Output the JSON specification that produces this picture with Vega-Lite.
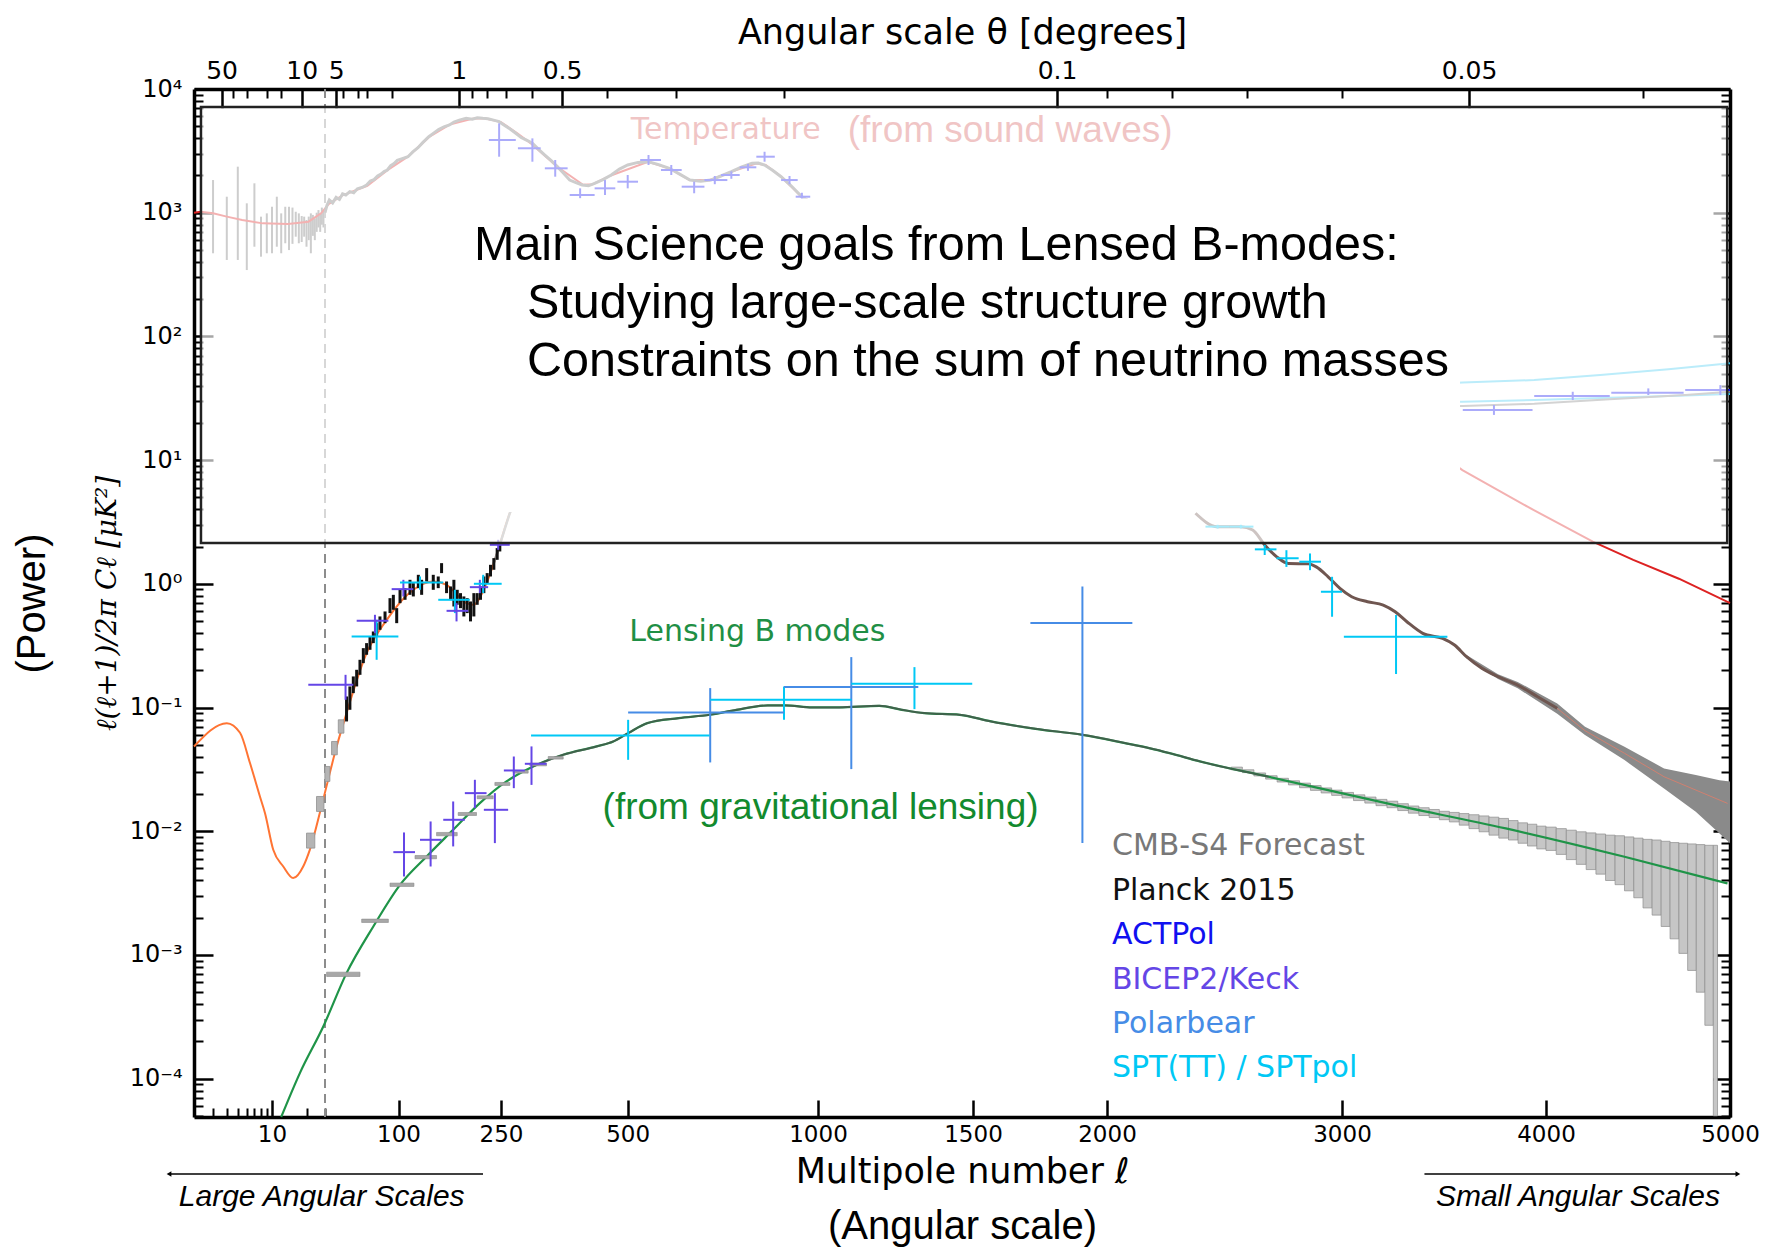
{
  "$schema": "https://vega.github.io/schema/vega-lite/v6.json",
  "width": 1536,
  "height": 1028,
  "autosize": {"type": "none"},
  "padding": {"left": 194, "top": 89, "right": 40, "bottom": 134},
  "background": "white",
  "config": {
    "view": {"stroke": null},
    "axis": {"grid": false, "labelFont": "DejaVu Sans", "titleFont": "DejaVu Sans", "labelColor": "#000000", "titleColor": "#000000", "tickColor": "#000000", "domainColor": "#000000", "titleFontWeight": "normal"}
  },
  "resolve": {"axis": {"x": "independent", "y": "independent"}},
  "datasets": {
    "tt_lowl": [
      {"l": 3, "lo": 470, "hi": 1837}, {"l": 4, "lo": 415, "hi": 1347}, {"l": 5, "lo": 415, "hi": 2356}, {"l": 6, "lo": 344, "hi": 1191},
      {"l": 7, "lo": 531, "hi": 1728}, {"l": 8, "lo": 441, "hi": 929}, {"l": 9, "lo": 470, "hi": 988}, {"l": 10, "lo": 470, "hi": 1117},
      {"l": 11, "lo": 531, "hi": 1347}, {"l": 12, "lo": 470, "hi": 988}, {"l": 13, "lo": 566, "hi": 1117}, {"l": 14, "lo": 499, "hi": 1117},
      {"l": 15, "lo": 560, "hi": 1100}, {"l": 16, "lo": 640, "hi": 1018}, {"l": 17, "lo": 566, "hi": 988}, {"l": 18, "lo": 580, "hi": 940},
      {"l": 19, "lo": 640, "hi": 929}, {"l": 20, "lo": 531, "hi": 873}, {"l": 21, "lo": 600, "hi": 930}, {"l": 22, "lo": 470, "hi": 988},
      {"l": 23, "lo": 650, "hi": 960}, {"l": 24, "lo": 600, "hi": 900}, {"l": 25, "lo": 700, "hi": 1000}, {"l": 26, "lo": 760, "hi": 1050},
      {"l": 27, "lo": 700, "hi": 980}, {"l": 28, "lo": 800, "hi": 1100}, {"l": 29, "lo": 760, "hi": 1040}
    ],
    "tt_data": [
      {"l": 30, "v": 1000}, {"l": 31, "v": 1150}, {"l": 32.2, "v": 1266}, {"l": 34, "v": 1200}, {"l": 36, "v": 1330}, {"l": 38, "v": 1280},
      {"l": 40, "v": 1420}, {"l": 42.2, "v": 1390}, {"l": 45, "v": 1480}, {"l": 48, "v": 1450}, {"l": 51, "v": 1560}, {"l": 55, "v": 1600},
      {"l": 59.3, "v": 1675}, {"l": 63, "v": 1800}, {"l": 67, "v": 1850}, {"l": 71, "v": 1980}, {"l": 75, "v": 2050}, {"l": 79, "v": 2150},
      {"l": 83.3, "v": 2215}, {"l": 88, "v": 2400}, {"l": 93, "v": 2500}, {"l": 98, "v": 2650}, {"l": 103, "v": 2720}, {"l": 109.7, "v": 2836},
      {"l": 115, "v": 3100}, {"l": 121, "v": 3350}, {"l": 127, "v": 3700}, {"l": 134.5, "v": 4113}, {"l": 141, "v": 4400}, {"l": 148, "v": 4700},
      {"l": 156, "v": 4950}, {"l": 164.6, "v": 5120}, {"l": 172, "v": 5400}, {"l": 181, "v": 5600}, {"l": 190.8, "v": 5790}, {"l": 200, "v": 5700},
      {"l": 208, "v": 5850}, {"l": 217, "v": 5790}, {"l": 226, "v": 5750}, {"l": 236, "v": 5600}, {"l": 246.4, "v": 5445}, {"l": 255, "v": 5100},
      {"l": 264, "v": 4750}, {"l": 273.1, "v": 4385}, {"l": 282, "v": 4050}, {"l": 292, "v": 3850}, {"l": 301.6, "v": 3640}, {"l": 313, "v": 3250},
      {"l": 324.9, "v": 2926}, {"l": 337, "v": 2650}, {"l": 350.1, "v": 2356}, {"l": 362, "v": 2100}, {"l": 374.1, "v": 1837}, {"l": 386, "v": 1750},
      {"l": 398.3, "v": 1675}, {"l": 411, "v": 1650}, {"l": 423.9, "v": 1728}, {"l": 442, "v": 1850}, {"l": 460.6, "v": 2017}, {"l": 480, "v": 2250},
      {"l": 500.2, "v": 2430}, {"l": 520, "v": 2550}, {"l": 540.9, "v": 2584}, {"l": 562, "v": 2450}, {"l": 584.8, "v": 2285}, {"l": 608, "v": 2050},
      {"l": 632.1, "v": 1837}, {"l": 658, "v": 1800}, {"l": 683.3, "v": 1837}, {"l": 710, "v": 1980}, {"l": 738.4, "v": 2145}, {"l": 768, "v": 2350},
      {"l": 798.1, "v": 2506}, {"l": 817, "v": 2520}, {"l": 836.6, "v": 2430}, {"l": 862, "v": 2200}, {"l": 890.2, "v": 1955}, {"l": 920, "v": 1650},
      {"l": 951.3, "v": 1347}, {"l": 980, "v": 1200}, {"l": 1000, "v": 1100}
    ],
    "tt_theory": [
      {"l": 2, "v": 1000}, {"l": 2.31, "v": 1018}, {"l": 3, "v": 990}, {"l": 4, "v": 930}, {"l": 5.46, "v": 873}, {"l": 8.32, "v": 820},
      {"l": 13.7, "v": 810}, {"l": 20.9, "v": 846}, {"l": 27.5, "v": 988}, {"l": 32, "v": 1180}, {"l": 40, "v": 1380}, {"l": 60, "v": 1650},
      {"l": 83, "v": 2200}, {"l": 110, "v": 2850}, {"l": 135, "v": 4100}, {"l": 165, "v": 5150}, {"l": 200, "v": 5750}, {"l": 220, "v": 5800},
      {"l": 250, "v": 5400}, {"l": 275, "v": 4400}, {"l": 300, "v": 3600}, {"l": 350, "v": 2350}, {"l": 400, "v": 1680}, {"l": 420, "v": 1700},
      {"l": 460, "v": 2000}, {"l": 540, "v": 2580}, {"l": 585, "v": 2280}, {"l": 630, "v": 1850}, {"l": 680, "v": 1830}, {"l": 740, "v": 2150},
      {"l": 810, "v": 2500}, {"l": 840, "v": 2430}, {"l": 890, "v": 1960}, {"l": 950, "v": 1350}, {"l": 1000, "v": 1150}, {"l": 1100, "v": 1050},
      {"l": 1200, "v": 900}, {"l": 1400, "v": 700}, {"l": 1600, "v": 480}, {"l": 1800, "v": 320}, {"l": 2000, "v": 220}, {"l": 2200, "v": 150},
      {"l": 2500, "v": 85}, {"l": 2800, "v": 45}, {"l": 3100, "v": 25}, {"l": 3400, "v": 13}, {"l": 3566, "v": 8.3}, {"l": 3900, "v": 4.2},
      {"l": 4234, "v": 2.19}, {"l": 4447, "v": 1.56}, {"l": 4700, "v": 1.1}, {"l": 4985, "v": 0.716}, {"l": 5000, "v": 0.7}
    ],
    "spt_tt": [
      {"s": "hi", "l": 3000, "v": 38}, {"s": "hi", "l": 3568, "v": 42.5}, {"s": "hi", "l": 3936, "v": 44.4}, {"s": "hi", "l": 4272, "v": 48.8}, {"s": "hi", "l": 4641, "v": 54.2}, {"s": "hi", "l": 5000, "v": 60.6},
      {"s": "lo", "l": 3000, "v": 29}, {"s": "lo", "l": 3568, "v": 29.7}, {"s": "lo", "l": 3936, "v": 30.6}, {"s": "lo", "l": 4322, "v": 32}, {"s": "lo", "l": 4736, "v": 33.3}, {"s": "lo", "l": 5000, "v": 34.2},
      {"s": "model", "l": 3000, "v": 28}, {"s": "model", "l": 3568, "v": 27.4}, {"s": "model", "l": 3936, "v": 28.5}, {"s": "model", "l": 4322, "v": 31}, {"s": "model", "l": 4736, "v": 33.6}, {"s": "model", "l": 5000, "v": 35.7}
    ],
    "ee_theory": [
      {"l": 2, "v": 0.0484}, {"l": 4, "v": 0.0748}, {"l": 5.23, "v": 0.0625}, {"l": 6.4, "v": 0.0356}, {"l": 7.83, "v": 0.0191}, {"l": 8.68, "v": 0.014},
      {"l": 10.25, "v": 0.00708}, {"l": 12.5, "v": 0.00519}, {"l": 15.2, "v": 0.00418}, {"l": 18.6, "v": 0.00519}, {"l": 21.5, "v": 0.00708},
      {"l": 28.8, "v": 0.018}, {"l": 36.3, "v": 0.0484}, {"l": 42.7, "v": 0.0902}, {"l": 59.3, "v": 0.275}, {"l": 82.5, "v": 0.512},
      {"l": 115.6, "v": 0.895}, {"l": 140.5, "v": 1.045}, {"l": 160, "v": 0.982}, {"l": 191.4, "v": 0.698}, {"l": 201.5, "v": 0.676},
      {"l": 223.5, "v": 1.012}, {"l": 244.7, "v": 1.888}, {"l": 263.5, "v": 3.73}, {"l": 280, "v": 5.5}
    ],
    "ee_stub": [
      {"l": 236, "v": 1.45}, {"l": 245, "v": 1.9}, {"l": 255, "v": 2.7}, {"l": 263.5, "v": 3.73}, {"l": 275, "v": 5}, {"l": 290, "v": 7}
    ],
    "ee_s4_low": [
      {"l0": 20, "l1": 24, "lo": 0.00731, "hi": 0.00966}, {"l0": 24.9, "l1": 29.3, "lo": 0.01446, "hi": 0.0191},
      {"l0": 29.9, "l1": 32.5, "lo": 0.0253, "hi": 0.0334}, {"l0": 33.4, "l1": 36.7, "lo": 0.0415, "hi": 0.0532},
      {"l0": 37.3, "l1": 40.9, "lo": 0.0621, "hi": 0.0796}
    ],
    "planck_ee": [
      {"l": 42.7, "lo": 0.0772, "hi": 0.1229}, {"l": 45.1, "lo": 0.0959, "hi": 0.1481}, {"l": 47.7, "lo": 0.1308, "hi": 0.1784},
      {"l": 50.4, "lo": 0.1481, "hi": 0.2019}, {"l": 53.2, "lo": 0.1839, "hi": 0.2432}, {"l": 56.2, "lo": 0.2286, "hi": 0.3021},
      {"l": 59.3, "lo": 0.267, "hi": 0.3317}, {"l": 62.7, "lo": 0.293, "hi": 0.3755}, {"l": 66.2, "lo": 0.3317, "hi": 0.412},
      {"l": 69.9, "lo": 0.3755, "hi": 0.481}, {"l": 73.8, "lo": 0.425, "hi": 0.545}, {"l": 80.2, "lo": 0.481, "hi": 0.598},
      {"l": 87, "lo": 0.58, "hi": 0.766}, {"l": 91.9, "lo": 0.617, "hi": 0.815}, {"l": 97.1, "lo": 0.481, "hi": 0.636},
      {"l": 101.5, "lo": 0.698, "hi": 0.895}, {"l": 106.6, "lo": 0.743, "hi": 0.923}, {"l": 111.9, "lo": 0.815, "hi": 1.078},
      {"l": 115.6, "lo": 0.791, "hi": 1.013}, {"l": 121.4, "lo": 0.923, "hi": 1.183}, {"l": 125.4, "lo": 0.815, "hi": 1.078},
      {"l": 131.7, "lo": 1.045, "hi": 1.34}, {"l": 140.5, "lo": 0.895, "hi": 1.183}, {"l": 147.5, "lo": 0.923, "hi": 1.147},
      {"l": 152.4, "lo": 1.221, "hi": 1.47}, {"l": 160, "lo": 0.841, "hi": 1.045}, {"l": 166.4, "lo": 0.743, "hi": 0.952},
      {"l": 171.9, "lo": 0.656, "hi": 1.078}, {"l": 177.6, "lo": 0.677, "hi": 0.895}, {"l": 182.7, "lo": 0.636, "hi": 0.841},
      {"l": 187.5, "lo": 0.545, "hi": 0.791}, {"l": 192.4, "lo": 0.58, "hi": 0.766}, {"l": 197.4, "lo": 0.497, "hi": 0.72},
      {"l": 202.6, "lo": 0.545, "hi": 0.841}, {"l": 207.9, "lo": 0.677, "hi": 0.841}, {"l": 213.3, "lo": 0.743, "hi": 0.952},
      {"l": 218.9, "lo": 0.841, "hi": 1.147}, {"l": 224.6, "lo": 1.013, "hi": 1.221}, {"l": 230.5, "lo": 1.147, "hi": 1.425},
      {"l": 236.5, "lo": 1.299, "hi": 1.614}, {"l": 242.7, "lo": 1.564, "hi": 1.944}, {"l": 247.7, "lo": 1.827, "hi": 2.134}
    ],
    "ee_band": [
      {"l": 3587, "lo": 0.25, "hi": 0.266}, {"l": 3746, "lo": 0.17, "hi": 0.186}, {"l": 3848, "lo": 0.143, "hi": 0.161},
      {"l": 3954, "lo": 0.113, "hi": 0.132}, {"l": 4055, "lo": 0.089, "hi": 0.108}, {"l": 4194, "lo": 0.0599, "hi": 0.07},
      {"l": 4400, "lo": 0.0376, "hi": 0.0482}, {"l": 4616, "lo": 0.0222, "hi": 0.0322}, {"l": 4797, "lo": 0.01438, "hi": 0.0285},
      {"l": 4937, "lo": 0.0096, "hi": 0.0259}, {"l": 5000, "lo": 0.008, "hi": 0.0252}
    ],
    "ee_high": [
      {"l": 2346, "v": 3.72}, {"l": 2438, "v": 2.9}, {"l": 2543, "v": 2.9}, {"l": 2595, "v": 2.72}, {"l": 2646, "v": 2.06},
      {"l": 2697, "v": 1.66}, {"l": 2750, "v": 1.46}, {"l": 2840, "v": 1.45}, {"l": 2877, "v": 1.37}, {"l": 2933, "v": 1.14},
      {"l": 2990, "v": 0.919}, {"l": 3042, "v": 0.787}, {"l": 3112, "v": 0.717}, {"l": 3183, "v": 0.674}, {"l": 3238, "v": 0.595},
      {"l": 3293, "v": 0.494}, {"l": 3369, "v": 0.398}, {"l": 3466, "v": 0.362}, {"l": 3526, "v": 0.32}, {"l": 3587, "v": 0.2576},
      {"l": 3665, "v": 0.2073}, {"l": 3746, "v": 0.1776}, {"l": 3848, "v": 0.152}, {"l": 3954, "v": 0.1224}, {"l": 4055, "v": 0.0985}
    ],
    "ee_tail": [
      {"l": 4055, "v": 0.0985}, {"l": 4194, "v": 0.065}, {"l": 4400, "v": 0.0427}, {"l": 4616, "v": 0.0276}, {"l": 4985, "v": 0.0168}
    ],
    "bb_s4_high": [
      {"l0": 2500, "l1": 2550, "lo": 0.0314, "hi": 0.033}, {"l0": 2550, "l1": 2600, "lo": 0.0298, "hi": 0.0314},
      {"l0": 2600, "l1": 2650, "lo": 0.028, "hi": 0.0296}, {"l0": 2650, "l1": 2700, "lo": 0.0264, "hi": 0.0281},
      {"l0": 2700, "l1": 2750, "lo": 0.025, "hi": 0.0268}, {"l0": 2750, "l1": 2800, "lo": 0.0237, "hi": 0.0256},
      {"l0": 2800, "l1": 2850, "lo": 0.0225, "hi": 0.0245}, {"l0": 2850, "l1": 2900, "lo": 0.0214, "hi": 0.0234},
      {"l0": 2900, "l1": 2950, "lo": 0.0204, "hi": 0.0224}, {"l0": 2950, "l1": 3000, "lo": 0.0195, "hi": 0.0215},
      {"l0": 3000, "l1": 3050, "lo": 0.0186, "hi": 0.0206}, {"l0": 3050, "l1": 3100, "lo": 0.0177, "hi": 0.0197},
      {"l0": 3100, "l1": 3150, "lo": 0.0169, "hi": 0.0189}, {"l0": 3150, "l1": 3200, "lo": 0.0161, "hi": 0.0181},
      {"l0": 3200, "l1": 3250, "lo": 0.0155, "hi": 0.0175}, {"l0": 3250, "l1": 3300, "lo": 0.0147, "hi": 0.0167},
      {"l0": 3300, "l1": 3350, "lo": 0.014, "hi": 0.016}, {"l0": 3350, "l1": 3400, "lo": 0.0134, "hi": 0.0155},
      {"l0": 3400, "l1": 3450, "lo": 0.0129, "hi": 0.015}, {"l0": 3450, "l1": 3500, "lo": 0.0124, "hi": 0.0145},
      {"l0": 3500, "l1": 3550, "lo": 0.0119, "hi": 0.0142}, {"l0": 3550, "l1": 3600, "lo": 0.0112, "hi": 0.0139},
      {"l0": 3600, "l1": 3650, "lo": 0.0105, "hi": 0.0136}, {"l0": 3650, "l1": 3700, "lo": 0.0099, "hi": 0.0133},
      {"l0": 3700, "l1": 3750, "lo": 0.0093, "hi": 0.013}, {"l0": 3750, "l1": 3800, "lo": 0.0088, "hi": 0.0127},
      {"l0": 3800, "l1": 3850, "lo": 0.0085, "hi": 0.0122}, {"l0": 3850, "l1": 3900, "lo": 0.008, "hi": 0.0117},
      {"l0": 3900, "l1": 3950, "lo": 0.0076, "hi": 0.0114}, {"l0": 3950, "l1": 4000, "lo": 0.0072, "hi": 0.011},
      {"l0": 4000, "l1": 4050, "lo": 0.007, "hi": 0.0108}, {"l0": 4050, "l1": 4100, "lo": 0.0065, "hi": 0.0105},
      {"l0": 4100, "l1": 4150, "lo": 0.0059, "hi": 0.0102}, {"l0": 4150, "l1": 4200, "lo": 0.0054, "hi": 0.0099},
      {"l0": 4200, "l1": 4250, "lo": 0.0049, "hi": 0.0097}, {"l0": 4250, "l1": 4300, "lo": 0.0045, "hi": 0.0095},
      {"l0": 4300, "l1": 4350, "lo": 0.004, "hi": 0.0093}, {"l0": 4350, "l1": 4400, "lo": 0.0037, "hi": 0.0092},
      {"l0": 4400, "l1": 4450, "lo": 0.0033, "hi": 0.009}, {"l0": 4450, "l1": 4500, "lo": 0.0029, "hi": 0.0088},
      {"l0": 4500, "l1": 4550, "lo": 0.0024, "hi": 0.0086}, {"l0": 4550, "l1": 4600, "lo": 0.0021, "hi": 0.0085},
      {"l0": 4600, "l1": 4650, "lo": 0.0017, "hi": 0.0083}, {"l0": 4650, "l1": 4700, "lo": 0.00135, "hi": 0.0081},
      {"l0": 4700, "l1": 4750, "lo": 0.00103, "hi": 0.008}, {"l0": 4750, "l1": 4800, "lo": 0.00075, "hi": 0.0079},
      {"l0": 4800, "l1": 4850, "lo": 0.0005, "hi": 0.0078}, {"l0": 4850, "l1": 4900, "lo": 0.00027, "hi": 0.0077},
      {"l0": 4900, "l1": 4925, "lo": 0.00005, "hi": 0.0077}
    ],
    "bb_lens": [
      {"l": 12, "v": 0.000049}, {"l": 17.36, "v": 0.0001109}, {"l": 28.9, "v": 0.0002643}, {"l": 42.7, "v": 0.000713},
      {"l": 66.2, "v": 0.0017}, {"l": 101.5, "v": 0.00369}, {"l": 131.7, "v": 0.00626}, {"l": 170.7, "v": 0.01027},
      {"l": 212.2, "v": 0.01688}, {"l": 258.3, "v": 0.02527}, {"l": 303, "v": 0.0334}, {"l": 362.2, "v": 0.0415},
      {"l": 428, "v": 0.0485}, {"l": 465.5, "v": 0.0532}, {"l": 501, "v": 0.0621}, {"l": 538.5, "v": 0.0748},
      {"l": 605.3, "v": 0.0821}, {"l": 680.6, "v": 0.0874}, {"l": 753, "v": 0.0959}, {"l": 846.6, "v": 0.104},
      {"l": 904.4, "v": 0.104}, {"l": 982.6, "v": 0.1002}, {"l": 1056.8, "v": 0.1002}, {"l": 1174, "v": 0.1033},
      {"l": 1245, "v": 0.0959}, {"l": 1320, "v": 0.0902}, {"l": 1449, "v": 0.0874}, {"l": 1560, "v": 0.0772},
      {"l": 1718, "v": 0.0673}, {"l": 1899, "v": 0.0602}, {"l": 2066, "v": 0.0516}, {"l": 2162, "v": 0.0468},
      {"l": 2240, "v": 0.0428}, {"l": 2364, "v": 0.0367}, {"l": 2663, "v": 0.0276}, {"l": 3201, "v": 0.0168},
      {"l": 3786, "v": 0.01054}, {"l": 4400, "v": 0.00622}, {"l": 4985, "v": 0.00379}
    ],
    "bb_s4_low": [
      {"l0": 30.8, "l1": 53.2, "lo": 0.00067, "hi": 0.000726}, {"l0": 54.7, "l1": 84.7, "lo": 0.001831, "hi": 0.001949},
      {"l0": 87, "l1": 116.3, "lo": 0.00358, "hi": 0.00381}, {"l0": 117.5, "l1": 145.1, "lo": 0.00599, "hi": 0.00637},
      {"l0": 145.1, "l1": 177.6, "lo": 0.00919, "hi": 0.00978}, {"l0": 179.3, "l1": 206.8, "lo": 0.01341, "hi": 0.01418},
      {"l0": 207.9, "l1": 235.3, "lo": 0.0183, "hi": 0.01935}, {"l0": 238.4, "l1": 263.6, "lo": 0.02346, "hi": 0.0248},
      {"l0": 268.9, "l1": 294.1, "lo": 0.0295, "hi": 0.031}, {"l0": 297.1, "l1": 328.2, "lo": 0.0338, "hi": 0.0355},
      {"l0": 331.5, "l1": 362.2, "lo": 0.0383, "hi": 0.0402}
    ],
    "crosses": [
      {"exp": "ACTPol", "l": 246.4, "l0": 227.6, "l1": 273.1, "v": 3870, "lo": 2836, "hi": 5280},
      {"exp": "ACTPol", "l": 301.6, "l0": 276.6, "l1": 316.9, "v": 3318, "lo": 2584, "hi": 3990},
      {"exp": "ACTPol", "l": 345.7, "l0": 324.9, "l1": 370.3, "v": 2285, "lo": 1955, "hi": 2667},
      {"exp": "ACTPol", "l": 394.2, "l0": 374.1, "l1": 423.9, "v": 1390, "lo": 1307, "hi": 1574},
      {"exp": "ACTPol", "l": 446.5, "l0": 423.9, "l1": 470.1, "v": 1574, "lo": 1390, "hi": 1837},
      {"exp": "ACTPol", "l": 500.2, "l0": 475, "l1": 520, "v": 1781, "lo": 1574, "hi": 2017},
      {"exp": "ACTPol", "l": 540.9, "l0": 524.2, "l1": 566.8, "v": 2667, "lo": 2430, "hi": 2926},
      {"exp": "ACTPol", "l": 589.2, "l0": 566.8, "l1": 612.7, "v": 2215, "lo": 2017, "hi": 2430},
      {"exp": "ACTPol", "l": 642.1, "l0": 612.7, "l1": 667.4, "v": 1623, "lo": 1436, "hi": 1781},
      {"exp": "ACTPol", "l": 693.9, "l0": 667.4, "l1": 727.4, "v": 1837, "lo": 1700, "hi": 1980},
      {"exp": "ACTPol", "l": 738.4, "l0": 710.3, "l1": 762, "v": 2017, "lo": 1880, "hi": 2160},
      {"exp": "ACTPol", "l": 786, "l0": 762, "l1": 811.1, "v": 2328, "lo": 2180, "hi": 2480},
      {"exp": "ACTPol", "l": 836.6, "l0": 811.1, "l1": 869.4, "v": 2836, "lo": 2584, "hi": 3110},
      {"exp": "ACTPol", "l": 915.5, "l0": 890.2, "l1": 939, "v": 1837, "lo": 1700, "hi": 1980},
      {"exp": "ACTPol", "l": 951.3, "l0": 933.2, "l1": 976.2, "v": 1347, "lo": 1250, "hi": 1450},
      {"exp": "ACTPol", "l": 3725, "l0": 3568, "l1": 3927, "v": 25.4, "lo": 23.2, "hi": 27.9},
      {"exp": "ACTPol", "l": 4132, "l0": 3936, "l1": 4322, "v": 33, "lo": 30.6, "hi": 35.7},
      {"exp": "ACTPol", "l": 4529, "l0": 4330, "l1": 4727, "v": 35.1, "lo": 33.6, "hi": 38},
      {"exp": "ACTPol", "l": 4942, "l0": 4736, "l1": 5000, "v": 36.9, "lo": 33.6, "hi": 40.4},
      {"exp": "SPT(TT) / SPTpol", "l": 69.9, "l0": 46.4, "l1": 99.8, "v": 0.3755, "lo": 0.2432, "hi": 0.512},
      {"exp": "SPT(TT) / SPTpol", "l": 123.4, "l0": 101.5, "l1": 154.9, "v": 1.026, "lo": 0.895, "hi": 1.147},
      {"exp": "SPT(TT) / SPTpol", "l": 173.6, "l0": 147.5, "l1": 196.4, "v": 0.743, "lo": 0.58, "hi": 0.895},
      {"exp": "SPT(TT) / SPTpol", "l": 217.8, "l0": 202.6, "l1": 251, "v": 1.001, "lo": 0.841, "hi": 1.183},
      {"exp": "BICEP2/Keck", "l": 42, "l0": 20.8, "l1": 47.7, "v": 0.1527, "lo": 0.1155, "hi": 0.1839},
      {"exp": "BICEP2/Keck", "l": 68, "l0": 50.4, "l1": 84.7, "v": 0.503, "lo": 0.3995, "hi": 0.562},
      {"exp": "BICEP2/Keck", "l": 104.9, "l0": 89.4, "l1": 115.6, "v": 0.906, "lo": 0.791, "hi": 1.078},
      {"exp": "BICEP2/Keck", "l": 176.4, "l0": 160, "l1": 193.9, "v": 0.605, "lo": 0.497, "hi": 0.698},
      {"exp": "BICEP2/Keck", "l": 212.2, "l0": 196.4, "l1": 226.3, "v": 0.94, "lo": 0.841, "hi": 1.078},
      {"exp": "BICEP2/Keck", "l": 244.6, "l0": 229.3, "l1": 263.5, "v": 2.068, "lo": 1.884, "hi": 2.27},
      {"exp": "SPT(TT) / SPTpol", "l": 2440, "l0": 2388, "l1": 2491, "v": 2.9, "lo": 2.8, "hi": 3},
      {"exp": "SPT(TT) / SPTpol", "l": 2543, "l0": 2491, "l1": 2598, "v": 2.9, "lo": 2.8, "hi": 3},
      {"exp": "SPT(TT) / SPTpol", "l": 2646, "l0": 2604, "l1": 2697, "v": 1.9, "lo": 1.71, "hi": 2.06},
      {"exp": "SPT(TT) / SPTpol", "l": 2741, "l0": 2697, "l1": 2796, "v": 1.61, "lo": 1.37, "hi": 1.87},
      {"exp": "SPT(TT) / SPTpol", "l": 2848, "l0": 2799, "l1": 2899, "v": 1.51, "lo": 1.29, "hi": 1.76},
      {"exp": "SPT(TT) / SPTpol", "l": 2952, "l0": 2899, "l1": 3000, "v": 0.863, "lo": 0.542, "hi": 1.14},
      {"exp": "SPT(TT) / SPTpol", "l": 3242, "l0": 3008, "l1": 3490, "v": 0.3736, "lo": 0.1866, "hi": 0.5596},
      {"exp": "BICEP2/Keck", "l": 105.5, "l0": 91.9, "l1": 117.5, "v": 0.00678, "lo": 0.00431, "hi": 0.00978},
      {"exp": "BICEP2/Keck", "l": 136.9, "l0": 123.4, "l1": 152.4, "v": 0.00853, "lo": 0.00519, "hi": 0.012},
      {"exp": "BICEP2/Keck", "l": 170.7, "l0": 154.9, "l1": 188.9, "v": 0.01238, "lo": 0.00754, "hi": 0.01741},
      {"exp": "BICEP2/Keck", "l": 204.2, "l0": 188.9, "l1": 223.5, "v": 0.02033, "lo": 0.01538, "hi": 0.02606},
      {"exp": "BICEP2/Keck", "l": 238.4, "l0": 218.9, "l1": 260.9, "v": 0.01491, "lo": 0.00802, "hi": 0.02033},
      {"exp": "BICEP2/Keck", "l": 269.9, "l0": 254.3, "l1": 288.3, "v": 0.031, "lo": 0.0223, "hi": 0.0402},
      {"exp": "BICEP2/Keck", "l": 300, "l0": 288.3, "l1": 328.2, "v": 0.0351, "lo": 0.0237, "hi": 0.0485},
      {"exp": "SPT(TT) / SPTpol", "l": 501, "l0": 299.2, "l1": 680.6, "v": 0.0595, "lo": 0.0378, "hi": 0.0796},
      {"exp": "SPT(TT) / SPTpol", "l": 900, "l0": 682, "l1": 1091, "v": 0.1155, "lo": 0.0796, "hi": 0.1481},
      {"exp": "SPT(TT) / SPTpol", "l": 1287, "l0": 1091, "l1": 1497, "v": 0.1556, "lo": 0.0971, "hi": 0.2122},
      {"exp": "Polarbear", "l": 682, "l0": 501, "l1": 900, "v": 0.0913, "lo": 0.036, "hi": 0.1436},
      {"exp": "Polarbear", "l": 1091, "l0": 900, "l1": 1300, "v": 0.1463, "lo": 0.0318, "hi": 0.2557},
      {"exp": "Polarbear", "l": 1899, "l0": 1699, "l1": 2094, "v": 0.4814, "lo": 0.00802, "hi": 0.9524}
    ],
    "legend": [
      {"name": "CMB-S4 Forecast", "v": 0.00766}, {"name": "Planck 2015", "v": 0.00331}, {"name": "ACTPol", "v": 0.00146},
      {"name": "BICEP2/Keck", "v": 0.000629}, {"name": "Polarbear", "v": 0.000277}, {"name": "SPT(TT) / SPTpol", "v": 0.000122}
    ],
    "goals": [
      {"t": "Main Science goals from Lensed B-modes:", "l": 202.8, "v": 415},
      {"t": "Studying large-scale structure growth", "l": 292, "v": 141},
      {"t": "Constraints on the sum of neutrino masses", "l": 292, "v": 47.8}
    ]
  },
  "layer": [
    {
      "data": {"name": "tt_lowl"},
      "mark": {"type": "rule", "color": "#707070", "strokeWidth": 2},
      "encoding": {
        "x": {"field": "l", "type": "quantitative", "axis": null,
              "scale": {"type": "log", "nice": false,
                        "domain": [2, 3.6, 10, 18, 30, 100, 180, 250, 360, 500, 900, 1000, 1500, 1800, 2000, 2250, 2571, 3000, 3600, 4000, 4500, 5000],
                        "range": [0, 27.6, 78, 107.7, 131, 204.5, 264.6, 307, 368, 433.6, 590, 624, 779, 863, 913, 978, 1053, 1148, 1275, 1352, 1449, 1536]}},
        "y": {"field": "lo", "type": "quantitative", "axis": null,
              "scale": {"type": "log", "nice": false, "domain": [0.000049, 10000]}},
        "y2": {"field": "hi"}
      }
    },
    {
      "data": {"values": [{"l": 30}]},
      "mark": {"type": "rule", "color": "#8c8c8c", "strokeWidth": 2, "strokeDash": [9, 6]},
      "encoding": {"x": {"field": "l", "type": "quantitative", "axis": null}}
    },
    {
      "data": {"name": "tt_theory"},
      "mark": {"type": "line", "color": "#dd2222", "strokeWidth": 2},
      "encoding": {"x": {"field": "l", "type": "quantitative", "axis": null}, "y": {"field": "v", "type": "quantitative", "axis": null}}
    },
    {
      "data": {"name": "tt_data"},
      "mark": {"type": "line", "color": "#707070", "strokeWidth": 3},
      "encoding": {"x": {"field": "l", "type": "quantitative", "axis": null}, "y": {"field": "v", "type": "quantitative", "axis": null}}
    },
    {
      "data": {"name": "spt_tt"},
      "transform": [{"filter": "datum.s != 'model'"}],
      "mark": {"type": "line", "color": "#3cc8f0", "strokeWidth": 2},
      "encoding": {"x": {"field": "l", "type": "quantitative", "axis": null}, "y": {"field": "v", "type": "quantitative", "axis": null}, "detail": {"field": "s"}}
    },
    {
      "data": {"name": "spt_tt"},
      "transform": [{"filter": "datum.s == 'model'"}],
      "mark": {"type": "line", "color": "#808080", "strokeWidth": 2},
      "encoding": {"x": {"field": "l", "type": "quantitative", "axis": null}, "y": {"field": "v", "type": "quantitative", "axis": null}}
    },
    {
      "data": {"name": "ee_theory"},
      "mark": {"type": "line", "color": "#ff7433", "strokeWidth": 2, "interpolate": "monotone"},
      "encoding": {"x": {"field": "l", "type": "quantitative", "axis": null}, "y": {"field": "v", "type": "quantitative", "axis": null}}
    },
    {
      "data": {"name": "ee_stub"},
      "mark": {"type": "line", "color": "#9a9a9a", "strokeWidth": 2.5},
      "encoding": {"x": {"field": "l", "type": "quantitative", "axis": null}, "y": {"field": "v", "type": "quantitative", "axis": null}}
    },
    {
      "data": {"name": "ee_s4_low"},
      "mark": {"type": "rect", "fill": "#b4b4b4", "stroke": "#909090", "strokeWidth": 0.8},
      "encoding": {"x": {"field": "l0", "type": "quantitative", "axis": null}, "x2": {"field": "l1"}, "y": {"field": "lo", "type": "quantitative", "axis": null}, "y2": {"field": "hi"}}
    },
    {
      "data": {"name": "planck_ee"},
      "mark": {"type": "rule", "color": "#111111", "strokeWidth": 3},
      "encoding": {"x": {"field": "l", "type": "quantitative", "axis": null}, "y": {"field": "lo", "type": "quantitative", "axis": null}, "y2": {"field": "hi"}}
    },
    {
      "data": {"name": "ee_band"},
      "mark": {"type": "area", "color": "#8a8a8a"},
      "encoding": {"x": {"field": "l", "type": "quantitative", "axis": null}, "y": {"field": "lo", "type": "quantitative", "axis": null}, "y2": {"field": "hi"}}
    },
    {
      "data": {"name": "ee_high"},
      "mark": {"type": "line", "color": "#6f5650", "strokeWidth": 3, "interpolate": "monotone"},
      "encoding": {"x": {"field": "l", "type": "quantitative", "axis": null}, "y": {"field": "v", "type": "quantitative", "axis": null}}
    },
    {
      "data": {"name": "ee_tail"},
      "mark": {"type": "line", "color": "#d08070", "strokeWidth": 1},
      "encoding": {"x": {"field": "l", "type": "quantitative", "axis": null}, "y": {"field": "v", "type": "quantitative", "axis": null}}
    },
    {
      "data": {"name": "bb_s4_high"},
      "mark": {"type": "rect", "fill": "#c6c6c6", "stroke": "#8c8c8c", "strokeWidth": 0.7},
      "encoding": {"x": {"field": "l0", "type": "quantitative", "axis": null}, "x2": {"field": "l1"}, "y": {"field": "lo", "type": "quantitative", "axis": null}, "y2": {"field": "hi"}}
    },
    {
      "data": {"name": "bb_lens"},
      "mark": {"type": "line", "color": "#1f9448", "strokeWidth": 2.2, "interpolate": "monotone"},
      "encoding": {"x": {"field": "l", "type": "quantitative", "axis": null}, "y": {"field": "v", "type": "quantitative", "axis": null}}
    },
    {
      "data": {"name": "bb_lens"},
      "transform": [{"filter": "datum.l >= 300 && datum.l <= 2700"}],
      "mark": {"type": "line", "color": "#4d4d4d", "strokeWidth": 2, "opacity": 0.7, "interpolate": "monotone"},
      "encoding": {"x": {"field": "l", "type": "quantitative", "axis": null}, "y": {"field": "v", "type": "quantitative", "axis": null}}
    },
    {
      "data": {"name": "bb_s4_low"},
      "mark": {"type": "rect", "fill": "#a8a8a8", "stroke": "#8a8a8a", "strokeWidth": 0.6},
      "encoding": {"x": {"field": "l0", "type": "quantitative", "axis": null}, "x2": {"field": "l1"}, "y": {"field": "lo", "type": "quantitative", "axis": null}, "y2": {"field": "hi"}}
    },
    {
      "data": {"name": "crosses"},
      "mark": {"type": "rule", "strokeWidth": 2},
      "encoding": {
        "x": {"field": "l", "type": "quantitative", "axis": null},
        "y": {"field": "lo", "type": "quantitative", "axis": null},
        "y2": {"field": "hi"},
        "color": {"field": "exp", "type": "nominal", "legend": null,
                  "scale": {"domain": ["CMB-S4 Forecast", "Planck 2015", "ACTPol", "BICEP2/Keck", "Polarbear", "SPT(TT) / SPTpol"],
                            "range": ["#787878", "#111111", "#1010f0", "#6446e6", "#468ce6", "#00c8f5"]}}
      }
    },
    {
      "data": {"name": "crosses"},
      "mark": {"type": "rule", "strokeWidth": 2},
      "encoding": {
        "x": {"field": "l0", "type": "quantitative", "axis": null},
        "x2": {"field": "l1"},
        "y": {"field": "v", "type": "quantitative", "axis": null},
        "color": {"field": "exp", "type": "nominal", "legend": null}
      }
    },
    {
      "data": {"values": [{}]},
      "mark": {"type": "text", "font": "DejaVu Sans", "fontSize": 30, "color": "#d45a5a", "align": "center", "baseline": "middle"},
      "encoding": {"x": {"datum": 723, "type": "quantitative", "axis": null}, "y": {"datum": 4677, "type": "quantitative", "axis": null}, "text": {"value": "Temperature"}}
    },
    {
      "data": {"values": [{}]},
      "mark": {"type": "text", "font": "Liberation Sans", "fontSize": 37, "color": "#d45a5a", "align": "center", "baseline": "middle"},
      "encoding": {"x": {"datum": 1626, "type": "quantitative", "axis": null}, "y": {"datum": 4571, "type": "quantitative", "axis": null}, "text": {"value": "(from sound waves)"}}
    },
    {
      "data": {"values": [{}]},
      "mark": {"type": "rect", "fill": "#ffffff", "fillOpacity": 0.65, "stroke": "#222222", "strokeWidth": 2.5},
      "encoding": {"x": {"datum": 2.32, "type": "quantitative", "axis": null}, "x2": {"datum": 4983}, "y": {"datum": 2.14, "type": "quantitative", "axis": null}, "y2": {"datum": 7140}}
    },
    {
      "data": {"values": [{}]},
      "mark": {"type": "rect", "fill": "#ffffff", "fillOpacity": 1},
      "encoding": {"x": {"datum": 177, "type": "quantitative", "axis": null}, "x2": {"datum": 3554}, "y": {"datum": 3.81, "type": "quantitative", "axis": null}, "y2": {"datum": 1300}}
    },
    {
      "data": {"name": "goals"},
      "mark": {"type": "text", "font": "Liberation Sans", "fontSize": 48.5, "color": "#000000", "align": "left", "baseline": "alphabetic"},
      "encoding": {"x": {"field": "l", "type": "quantitative", "axis": null}, "y": {"field": "v", "type": "quantitative", "axis": null}, "text": {"field": "t"}}
    },
    {
      "data": {"values": [{}]},
      "mark": {"type": "text", "font": "DejaVu Sans", "fontSize": 30, "color": "#1f8f45", "align": "center", "baseline": "middle"},
      "encoding": {"x": {"datum": 814, "type": "quantitative", "axis": null}, "y": {"datum": 0.408, "type": "quantitative", "axis": null}, "text": {"value": "Lensing B modes"}}
    },
    {
      "data": {"values": [{}]},
      "mark": {"type": "text", "font": "Liberation Sans", "fontSize": 37, "color": "#128a2e", "align": "center", "baseline": "middle"},
      "encoding": {"x": {"datum": 1006.8, "type": "quantitative", "axis": null}, "y": {"datum": 0.01535, "type": "quantitative", "axis": null}, "text": {"value": "(from gravitational lensing)"}}
    },
    {
      "data": {"name": "legend"},
      "mark": {"type": "text", "font": "DejaVu Sans", "fontSize": 30, "align": "left", "baseline": "middle"},
      "encoding": {
        "x": {"datum": 2018, "type": "quantitative", "axis": null},
        "y": {"field": "v", "type": "quantitative", "axis": null},
        "text": {"field": "name"},
        "color": {"field": "name", "type": "nominal", "legend": null}
      }
    },
    {
      "data": {"values": [{}]},
      "mark": {"type": "rule", "color": "#000000", "strokeWidth": 1.5},
      "encoding": {"x": {"datum": 1.175, "type": "quantitative", "axis": null}, "x2": {"datum": 217.5}, "y": {"datum": 0.00001694, "type": "quantitative", "axis": null}}
    },
    {
      "data": {"values": [{}]},
      "mark": {"type": "rule", "color": "#000000", "strokeWidth": 1.5},
      "encoding": {"x": {"datum": 3377, "type": "quantitative", "axis": null}, "x2": {"datum": 5048}, "y": {"datum": 0.00001694, "type": "quantitative", "axis": null}}
    },
    {
      "data": {"values": [{}]},
      "mark": {"type": "point", "shape": "triangle-left", "filled": true, "size": 30, "color": "#000000", "opacity": 1},
      "encoding": {"x": {"datum": 1.175, "type": "quantitative", "axis": null}, "y": {"datum": 0.00001694, "type": "quantitative", "axis": null}}
    },
    {
      "data": {"values": [{}]},
      "mark": {"type": "point", "shape": "triangle-right", "filled": true, "size": 30, "color": "#000000", "opacity": 1},
      "encoding": {"x": {"datum": 5048, "type": "quantitative", "axis": null}, "y": {"datum": 0.00001694, "type": "quantitative", "axis": null}}
    },
    {
      "data": {"values": [{}]},
      "mark": {"type": "text", "font": "Liberation Sans", "fontStyle": "italic", "fontSize": 30, "color": "#000000", "align": "center", "baseline": "middle"},
      "encoding": {"x": {"datum": 27.9, "type": "quantitative", "axis": null}, "y": {"datum": 0.00001114, "type": "quantitative", "axis": null}, "text": {"value": "Large Angular Scales"}}
    },
    {
      "data": {"values": [{}]},
      "mark": {"type": "text", "font": "Liberation Sans", "fontStyle": "italic", "fontSize": 30, "color": "#000000", "align": "center", "baseline": "middle"},
      "encoding": {"x": {"datum": 4158, "type": "quantitative", "axis": null}, "y": {"datum": 0.00001114, "type": "quantitative", "axis": null}, "text": {"value": "Small Angular Scales"}}
    },
    {
      "data": {"values": [{"l": 100, "v": 1}]},
      "mark": {"type": "point", "opacity": 0},
      "encoding": {
        "x": {"field": "l", "type": "quantitative",
              "axis": {"orient": "bottom", "values": [10, 100, 250, 500, 1000, 1500, 2000, 3000, 4000, 5000], "format": "d",
                       "ticks": false, "domain": false, "labelFontSize": 23, "labelPadding": 6, "labelFlush": false, "labelOverlap": false,
                       "title": "Multipole number ℓ", "titleFontSize": 35, "titlePadding": 8}},
        "y": {"field": "v", "type": "quantitative",
              "axis": {"orient": "left", "values": [0.0001, 0.001, 0.01, 0.1, 1, 10, 100, 1000, 10000],
                       "labelExpr": "'10' + (datum.value < 0.0005 ? '⁻⁴' : datum.value < 0.005 ? '⁻³' : datum.value < 0.05 ? '⁻²' : datum.value < 0.5 ? '⁻¹' : datum.value < 5 ? '⁰' : datum.value < 50 ? '¹' : datum.value < 500 ? '²' : datum.value < 5000 ? '³' : '⁴')",
                       "ticks": false, "domain": false, "labelFontSize": 24, "labelPadding": 12, "labelFlush": false, "labelOverlap": false,
                       "title": "ℓ(ℓ+1)/2π Cℓ [μK²]", "titleFont": "DejaVu Serif", "titleFontStyle": "italic", "titleFontSize": 28, "titlePadding": 8}}
      }
    },
    {
      "data": {"values": [{"l": 100, "v": 1}]},
      "mark": {"type": "point", "opacity": 0},
      "encoding": {
        "x": {"field": "l", "type": "quantitative",
              "axis": {"orient": "bottom", "values": [10, 100, 250, 500, 1000, 1500, 2000, 3000, 4000, 5000], "labels": false,
                       "tickSize": -17, "tickWidth": 2.5, "domain": true, "domainWidth": 3.5,
                       "title": "(Angular scale)", "titleFont": "Liberation Sans", "titleFontSize": 40, "titlePadding": 88}},
        "y": {"field": "v", "type": "quantitative",
              "axis": {"orient": "left", "values": [0.0001, 0.001, 0.01, 0.1, 1, 10, 100, 1000, 10000], "labels": false,
                       "tickSize": -19, "tickWidth": 2.5, "domain": true, "domainWidth": 3.5,
                       "title": "(Power)", "titleFont": "Liberation Sans", "titleFontSize": 40, "titlePadding": 140}}
      }
    },
    {
      "data": {"values": [{"l": 100, "v": 1}]},
      "mark": {"type": "point", "opacity": 0},
      "encoding": {
        "x": {"field": "l", "type": "quantitative",
              "axis": {"orient": "bottom", "values": [3, 4, 5, 6, 7, 8, 9, 20, 30], "labels": false, "tickSize": -9, "tickWidth": 2, "domain": false, "title": null}},
        "y": {"field": "v", "type": "quantitative",
              "axis": {"orient": "left", "labels": false, "tickSize": -9, "tickWidth": 2, "domain": false, "title": null,
                       "values": [5e-5, 6e-5, 7e-5, 8e-5, 9e-5, 2e-4, 3e-4, 4e-4, 5e-4, 6e-4, 7e-4, 8e-4, 9e-4, 0.002, 0.003, 0.004, 0.005, 0.006, 0.007, 0.008, 0.009,
                                  0.02, 0.03, 0.04, 0.05, 0.06, 0.07, 0.08, 0.09, 0.2, 0.3, 0.4, 0.5, 0.6, 0.7, 0.8, 0.9, 2, 3, 4, 5, 6, 7, 8, 9,
                                  20, 30, 40, 50, 60, 70, 80, 90, 200, 300, 400, 500, 600, 700, 800, 900, 2000, 3000, 4000, 5000, 6000, 7000, 8000, 9000]}}
      }
    },
    {
      "data": {"values": [{"l": 100, "v": 1}]},
      "mark": {"type": "point", "opacity": 0},
      "encoding": {
        "x": {"field": "l", "type": "quantitative",
              "axis": {"orient": "top", "values": [3.6, 18, 36, 180, 360, 1800, 3600],
                       "labelExpr": "datum.value < 5 ? '50' : datum.value < 25 ? '10' : datum.value < 50 ? '5' : datum.value < 250 ? '1' : datum.value < 500 ? '0.5' : datum.value < 2500 ? '0.1' : '0.05'",
                       "ticks": false, "domain": false, "labelFontSize": 25, "labelPadding": 6, "labelFlush": false, "labelOverlap": false,
                       "title": "Angular scale θ [degrees]", "titleFontSize": 35, "titlePadding": 8}},
        "y": {"field": "v", "type": "quantitative",
              "axis": {"orient": "right", "values": [0.0001, 0.001, 0.01, 0.1, 1, 10, 100, 1000, 10000], "labels": false,
                       "tickSize": -17, "tickWidth": 2.5, "domain": true, "domainWidth": 3.5, "title": null}}
      }
    },
    {
      "data": {"values": [{"l": 100, "v": 1}]},
      "mark": {"type": "point", "opacity": 0},
      "encoding": {
        "x": {"field": "l", "type": "quantitative",
              "axis": {"orient": "top", "values": [3.6, 18, 36, 180, 360, 1800, 3600], "labels": false,
                       "tickSize": -19, "tickWidth": 2.5, "domain": true, "domainWidth": 3.5, "title": null}},
        "y": {"field": "v", "type": "quantitative",
              "axis": {"orient": "right", "labels": false, "tickSize": -9, "tickWidth": 2, "domain": false, "title": null,
                       "values": [5e-5, 6e-5, 7e-5, 8e-5, 9e-5, 2e-4, 3e-4, 4e-4, 5e-4, 6e-4, 7e-4, 8e-4, 9e-4, 0.002, 0.003, 0.004, 0.005, 0.006, 0.007, 0.008, 0.009,
                                  0.02, 0.03, 0.04, 0.05, 0.06, 0.07, 0.08, 0.09, 0.2, 0.3, 0.4, 0.5, 0.6, 0.7, 0.8, 0.9, 2, 3, 4, 5, 6, 7, 8, 9,
                                  20, 30, 40, 50, 60, 70, 80, 90, 200, 300, 400, 500, 600, 700, 800, 900, 2000, 3000, 4000, 5000, 6000, 7000, 8000, 9000]}}
      }
    },
    {
      "data": {"values": [{"l": 100, "v": 1}]},
      "mark": {"type": "point", "opacity": 0},
      "encoding": {
        "x": {"field": "l", "type": "quantitative",
              "axis": {"orient": "top", "values": [4.5, 6, 9, 12, 40, 51.4, 60, 90, 200, 225, 257, 300, 450, 600, 900, 2000, 2250, 2571, 3000, 4500],
                       "labels": false, "tickSize": -9, "tickWidth": 2, "domain": false, "title": null}},
        "y": {"field": "v", "type": "quantitative", "axis": null}
      }
    }
  ]
}
